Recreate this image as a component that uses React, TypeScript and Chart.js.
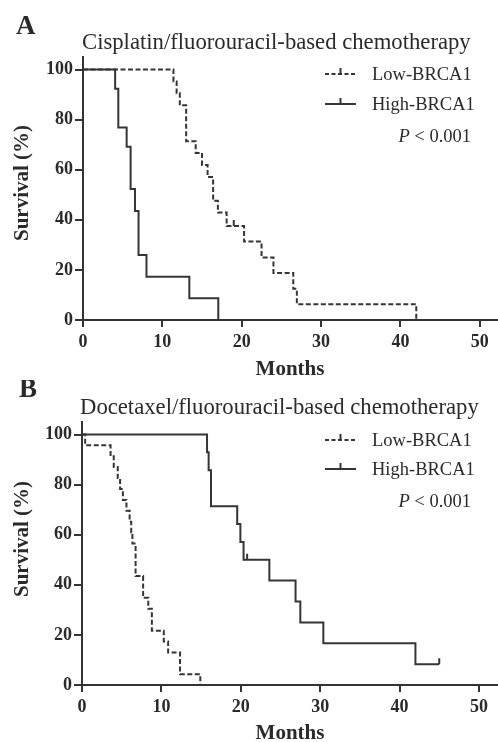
import React, { useEffect, useRef } from 'react';
import { Chart, registerables } from 'chart.js';

Chart.register(...registerables);

const SERIF = '"Liberation Serif", "Times New Roman", serif';
const INK = '#2a2a2a';
const LINE = '#353535';
const AXIS = '#333333';

// Shared labels / ticks
const xTicks = [0, 10, 20, 30, 40, 50];
const yTicks = [0, 20, 40, 60, 80, 100];
const seriesNames = ['Low-BRCA1', 'High-BRCA1'];
const pText = ' < 0.001';
const xTitle = 'Months';
const yTitle = 'Survival (%)';

// Panel A: Cisplatin/fluorouracil
const titleA = 'Cisplatin/fluorouracil-based chemotherapy';
const lowA_t = [0, 11.4, 11.8, 12.2, 13.0, 14.2, 15.0, 15.7, 16.4, 17.0, 18.1, 20.3, 22.5, 24.0, 26.5, 26.95, 42.0];
const lowA_s = [100, 95.2, 90.5, 85.7, 71.4, 66.7, 61.9, 57.1, 47.6, 42.9, 37.5, 31.3, 25.0, 18.8, 12.5, 6.3, 0];
const lowA_censor = [19.0];
const highA_t = [0, 4.05, 4.45, 5.5, 6.0, 6.55, 7.0, 8.0, 13.4, 17.05];
const highA_s = [100, 92.3, 76.9, 69.2, 52.3, 43.5, 26.0, 17.3, 8.7, 0];
const highA_censor: number[] = [];

// Panel B: Docetaxel/fluorouracil
const titleB = 'Docetaxel/fluorouracil-based chemotherapy';
const lowB_t = [0, 0.4, 3.6, 4.0, 4.5, 4.8, 5.15, 5.6, 6.0, 6.2, 6.35, 6.75, 7.7, 8.35, 8.8, 10.3, 10.85, 12.35, 14.9];
const lowB_s = [100, 95.7, 91.3, 87.0, 82.6, 78.3, 73.9, 69.6, 65.2, 60.9, 56.5, 43.5, 34.8, 30.4, 21.7, 17.4, 13.0, 4.3, 0];
const lowB_censor: number[] = [];
const highB_t = [0, 15.75, 15.95, 16.25, 19.55, 19.95, 20.35, 23.6, 26.9, 27.5, 30.4, 42.0, 45.0];
const highB_s = [100, 92.9, 85.7, 71.4, 64.3, 57.1, 50.0, 41.7, 33.3, 25.0, 16.7, 8.3, 8.3];
const highB_censor = [20.8, 45.0];

type Panel = {
  letter: string;
  title: string;
  lowT: number[]; lowS: number[]; lowC: number[];
  highT: number[]; highS: number[]; highC: number[];
  width: number; height: number;
  top: number; left: number; xAxisH: number; xMax: number;
  letterPos: [number, number];
  titlePos: [number, number];
  legendY: [number, number];
  pY: number;
  yTitlePos: [number, number];
  xTitlePos: [number, number];
};

const panelA: Panel = {
  letter: 'A', title: titleA,
  lowT: lowA_t, lowS: lowA_s, lowC: lowA_censor,
  highT: highA_t, highS: highA_s, highC: highA_censor,
  width: 498, height: 380,
  top: 57, left: 83, xAxisH: 60, xMax: 52.3,
  letterPos: [16, 27], titlePos: [82, 43],
  legendY: [74, 104], pY: 137,
  yTitlePos: [23, 183], xTitlePos: [290, 370],
};

const panelB: Panel = {
  letter: 'B', title: titleB,
  lowT: lowB_t, lowS: lowB_s, lowC: lowB_censor,
  highT: highB_t, highS: highB_s, highC: highB_censor,
  width: 498, height: 362,
  top: 42, left: 82, xAxisH: 57, xMax: 52.4,
  letterPos: [19, 10], titlePos: [80, 28],
  legendY: [60, 89], pY: 122,
  yTitlePos: [23, 159], xTitlePos: [290, 354],
};

function stepValue(ts: number[], ss: number[], t: number) {
  let v = ss[0];
  for (let i = 0; i < ts.length; i++) if (ts[i] <= t) v = ss[i];
  return v;
}

function makeDecor(p: Panel) {
  return {
    id: 'decor' + p.letter,
    afterDatasetsDraw(chart: any) {
      const ctx = chart.ctx as CanvasRenderingContext2D;
      const xs = chart.scales.x;
      const ys = chart.scales.y;
      ctx.save();
      // censor marks
      ctx.strokeStyle = LINE;
      ctx.lineWidth = 2;
      ctx.setLineDash([]);
      const marks: [number[], number[], number[]][] = [
        [p.lowT, p.lowS, p.lowC],
        [p.highT, p.highS, p.highC],
      ];
      marks.forEach(([ts, ss, cs]) => {
        cs.forEach((c) => {
          const px = xs.getPixelForValue(c);
          const py = ys.getPixelForValue(stepValue(ts, ss, c));
          ctx.beginPath();
          ctx.moveTo(px, py);
          ctx.lineTo(px, py - 6);
          ctx.stroke();
        });
      });

      ctx.fillStyle = INK;
      ctx.textBaseline = 'middle';
      // panel letter
      ctx.textAlign = 'left';
      ctx.font = `bold 27px ${SERIF}`;
      ctx.fillText(p.letter, p.letterPos[0], p.letterPos[1]);
      // title
      ctx.font = `22.7px ${SERIF}`;
      ctx.fillText(p.title, p.titlePos[0], p.titlePos[1]);

      // legend
      ctx.font = `18.5px ${SERIF}`;
      seriesNames.forEach((name, i) => {
        const ly = p.legendY[i];
        ctx.strokeStyle = LINE;
        ctx.lineWidth = 2;
        ctx.setLineDash(i === 0 ? [4, 2.5] : []);
        ctx.beginPath();
        ctx.moveTo(325, ly);
        ctx.lineTo(356, ly);
        ctx.stroke();
        ctx.setLineDash([]);
        ctx.beginPath();
        ctx.moveTo(340.5, ly);
        ctx.lineTo(340.5, ly - 6);
        ctx.stroke();
        ctx.fillText(name, 372, ly + 1);
      });
      // P value
      ctx.font = `18.5px ${SERIF}`;
      const restW = ctx.measureText(pText).width;
      ctx.font = `italic 18.5px ${SERIF}`;
      const pW = ctx.measureText('P').width;
      const right = 471;
      ctx.fillText('P', right - restW - pW, p.pY);
      ctx.font = `18.5px ${SERIF}`;
      ctx.fillText(pText, right - restW, p.pY);

      // axis titles
      ctx.font = `bold 21px ${SERIF}`;
      ctx.textAlign = 'center';
      ctx.fillText(xTitle, p.xTitlePos[0], p.xTitlePos[1]);
      ctx.save();
      ctx.translate(p.yTitlePos[0], p.yTitlePos[1]);
      ctx.rotate(-Math.PI / 2);
      ctx.fillText(yTitle, 0, 0);
      ctx.restore();
      ctx.restore();
    },
  };
}

function makeConfig(p: Panel): any {
  const tickFont = { family: SERIF, size: 18, weight: 'bold' as const };
  return {
    type: 'line',
    data: {
      datasets: [
        {
          label: seriesNames[0],
          data: p.lowT.map((t, i) => ({ x: t, y: p.lowS[i] })),
          stepped: 'before',
          borderColor: LINE,
          borderWidth: 2,
          borderDash: [5, 2.5],
          pointRadius: 0,
          fill: false,
        },
        {
          label: seriesNames[1],
          data: p.highT.map((t, i) => ({ x: t, y: p.highS[i] })),
          stepped: 'before',
          borderColor: LINE,
          borderWidth: 2,
          pointRadius: 0,
          fill: false,
        },
      ],
    },
    options: {
      animation: false,
      responsive: false,
      devicePixelRatio: 1,
      layout: { padding: { left: 0, right: 0, top: p.top, bottom: 0 } },
      plugins: { legend: { display: false }, tooltip: { enabled: false } },
      scales: {
        x: {
          type: 'linear',
          min: 0,
          max: p.xMax,
          afterBuildTicks: (s: any) => { s.ticks = xTicks.map((v) => ({ value: v })); },
          afterFit: (s: any) => { s.height = p.xAxisH; },
          grid: { drawOnChartArea: false, tickLength: 7, color: AXIS, lineWidth: 2 },
          border: { color: AXIS, width: 2 },
          ticks: { font: tickFont, color: INK, padding: 5, maxRotation: 0, autoSkip: false },
        },
        y: {
          type: 'linear',
          min: 0,
          max: 105,
          afterBuildTicks: (s: any) => { s.ticks = yTicks.map((v) => ({ value: v })); },
          afterFit: (s: any) => { s.width = p.left; },
          grid: { drawOnChartArea: false, tickLength: 8, color: AXIS, lineWidth: 2 },
          border: { color: AXIS, width: 2 },
          ticks: { font: tickFont, color: INK, padding: 2, autoSkip: false },
        },
      },
    },
    plugins: [makeDecor(p)],
  };
}

function PanelChart({ p, top }: { p: Panel; top: number }) {
  const ref = useRef<HTMLCanvasElement | null>(null);
  useEffect(() => {
    if (!ref.current) return;
    const chart = new Chart(ref.current, makeConfig(p));
    return () => chart.destroy();
  }, [p]);
  return (
    <canvas
      ref={ref}
      width={p.width}
      height={p.height}
      style={{ position: 'absolute', left: 0, top, width: p.width, height: p.height }}
    />
  );
}

export default function App() {
  return (
    <div style={{ position: 'absolute', left: 0, top: 0, width: 498, height: 742, background: '#ffffff', overflow: 'hidden' }}>
      <PanelChart p={panelA} top={0} />
      <PanelChart p={panelB} top={380} />
    </div>
  );
}
